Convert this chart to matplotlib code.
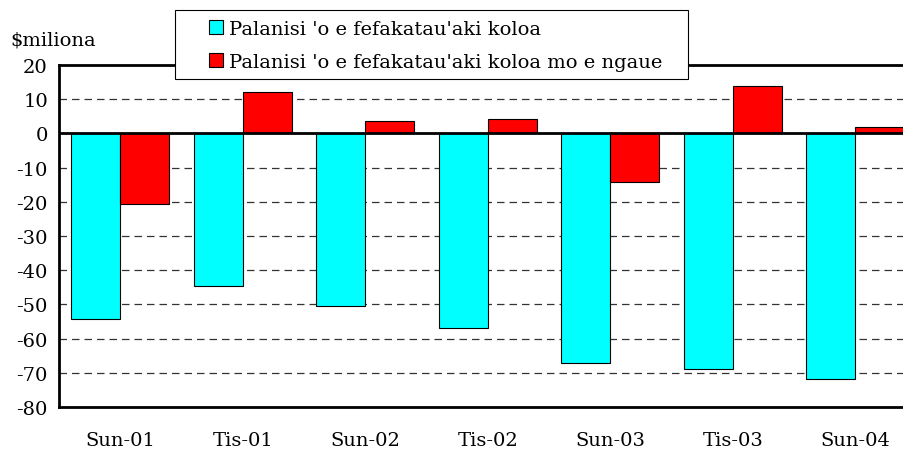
import numpy as np
import matplotlib
matplotlib.use('Agg')
import matplotlib.pyplot as plt
from matplotlib.patches import Rectangle

#%% data
periods = ['Sun-01', 'Tis-01', 'Sun-02', 'Tis-02', 'Sun-03', 'Tis-03', 'Sun-04']
goods_balance = [-54.2, -44.5, -50.6, -56.8, -67.0, -69.0, -71.9]
goods_services_balance = [-20.5, 12.0, 3.6, 4.1, -14.3, 13.8, 1.8]
series_names = ["Palanisi 'o e fefakatau'aki koloa",
                "Palanisi 'o e fefakatau'aki koloa mo e ngaue"]
yticks = np.arange(-80, 21, 10)

plt.rcParams['font.family'] = ['DejaVu Serif']
plt.rcParams['font.size'] = 14
plt.rcParams['axes.unicode_minus'] = False

W, H = 904, 456
fig = plt.figure(figsize=(W/100, H/100), dpi=100)
ax = fig.add_axes([59/W, 48/H, 857.5/W, 342/H])

x = np.arange(len(periods))
w = 0.4
ax.bar(x - w/2, goods_balance, w, color='#00FFFF', edgecolor='black', linewidth=0.8,
       label=series_names[0], zorder=3)
ax.bar(x + w/2, goods_services_balance, w, color='#FF0000', edgecolor='black', linewidth=0.8,
       label=series_names[1], zorder=3)

# dashed grid, solid zero line
for v in yticks:
    if v in (-80, 0, 20):
        continue
    ax.axhline(v, color='#333333', linestyle=(0, (6, 4)), linewidth=0.9, zorder=1)
ax.axhline(0, color='black', linewidth=2, zorder=4)

ax.set_xlim(-0.5, len(periods) - 0.5)
ax.set_ylim(-80, 20)
ax.set_yticks(yticks)
ax.set_xticks(x)
ax.set_xticklabels(periods)
ax.tick_params(axis='both', length=0)
ax.tick_params(axis='x', pad=17)
ax.tick_params(axis='y', pad=8)
for s in ['left', 'bottom', 'top']:
    ax.spines[s].set_linewidth(2)
ax.spines['right'].set_visible(False)

fig.text(10/W, 1 - 40/H, r'\$miliona', ha='left', va='center', fontsize=14)

# legend box drawn separately so the padding matches
box = Rectangle((175/W, 1 - 80/H), 513/W, 69/H, transform=fig.transFigure,
                facecolor='white', edgecolor='black', linewidth=0.8, zorder=5)
fig.patches.append(box)
leg = fig.legend(loc='upper left', bbox_to_anchor=(209/W, 1 - 21/H),
                 frameon=False, handlelength=0.7, handleheight=0.7, handletextpad=0.35,
                 borderpad=0, labelspacing=0.75, borderaxespad=0)
leg.set_zorder(10)

fig.savefig('out.png', dpi=100)
